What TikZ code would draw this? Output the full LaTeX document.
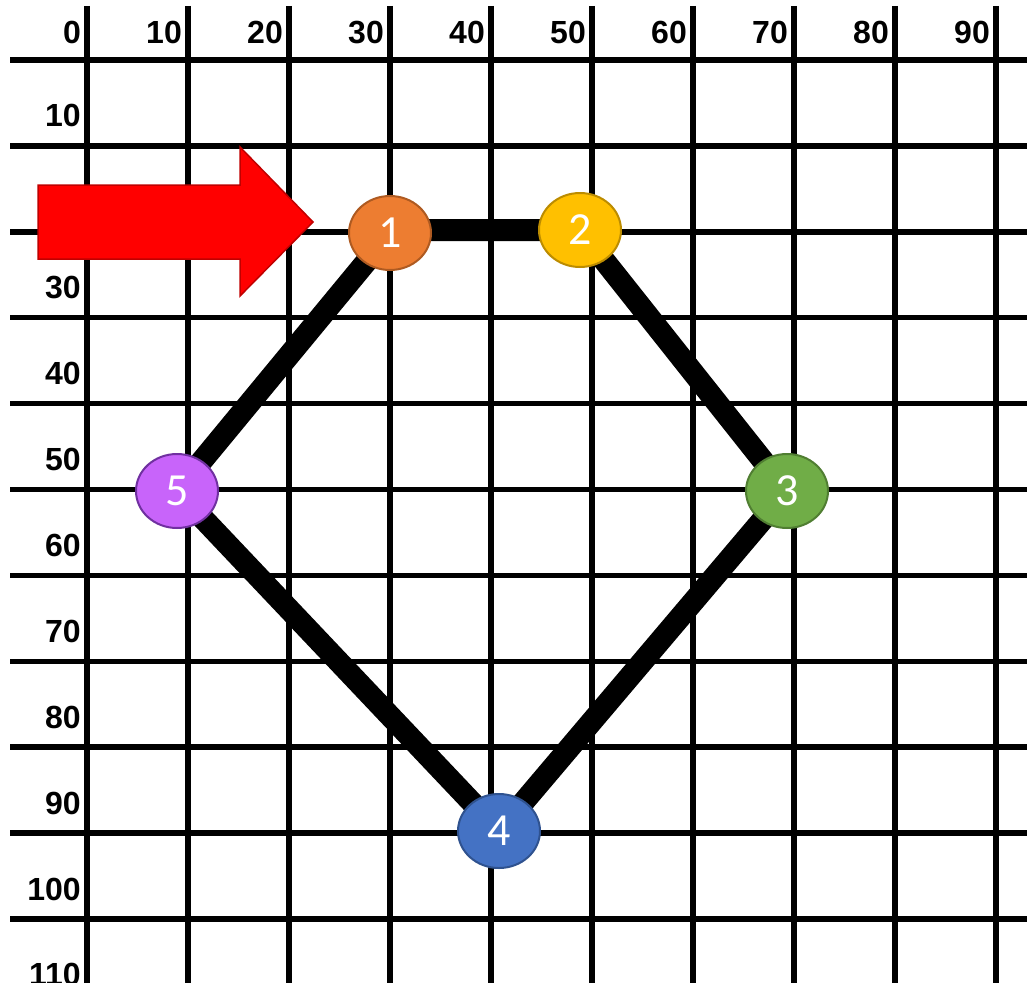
\documentclass[tikz,border=0pt]{standalone}
\usepackage{fontspec}
\setmainfont{Liberation Sans}
\newfontfamily\calib{Carlito}
\usetikzlibrary{shapes.geometric}
\definecolor{orfill}{HTML}{ED7D31}\definecolor{ordraw}{HTML}{AE5A21}
\definecolor{yefill}{HTML}{FFC000}\definecolor{yedraw}{HTML}{BC8C00}
\definecolor{grfill}{HTML}{70AD47}\definecolor{grdraw}{HTML}{507E32}
\definecolor{blfill}{HTML}{4472C4}\definecolor{bldraw}{HTML}{2F528F}
\definecolor{pufill}{RGB}{200,100,250}\definecolor{pudraw}{HTML}{7030A0}
\definecolor{arrfill}{HTML}{FF0000}\definecolor{arrdraw}{HTML}{C00000}
\pgfdeclarelayer{gridlayer}
\pgfdeclarelayer{edgelayer}
\pgfsetlayers{gridlayer,edgelayer,main}
\tikzset{
  gridline/.style={line width=5.5pt,black},
  axislabel/.style={inner sep=0pt,font=\fontsize{32}{32}\selectfont\bfseries},
  vertex/.style={ellipse,minimum width=82pt,minimum height=74pt,inner sep=0pt,line width=2pt,text=white,font=\calib\fontsize{46}{46}\selectfont},
  edgeline/.style={line width=22pt,black,shorten <=-6pt,shorten >=-6pt},
  bigarrow/.style={fill=arrfill,draw=arrdraw,line width=1.5pt,line join=miter}
}
\begin{document}
\begin{tikzpicture}[x=1pt,y=-1pt]
\useasboundingbox (0,0) rectangle (1027,982);
\clip (0,0) rectangle (1027,982);
\begin{pgfonlayer}{gridlayer}
\foreach \k in {0,...,9}{
  \pgfmathsetmacro{\xx}{87+101*\k}
  \draw[gridline] (\xx,6) -- (\xx,990);
  \pgfmathtruncatemacro{\lab}{10*\k}
  \node[axislabel,anchor=base east] (top\k) at (\xx-6,44) {\lab};
}
\foreach \j in {0,...,10}{
  \pgfmathsetmacro{\yy}{60+85.9*\j}
  \draw[gridline] (10,\yy) -- (1030,\yy);
}
\foreach \j in {1,...,11}{
  \pgfmathsetmacro{\yy}{60+85.9*\j-19}
  \pgfmathtruncatemacro{\lab}{10*\j}
  \node[axislabel,anchor=base east] (left\j) at (81,\yy) {\lab};
}
\end{pgfonlayer}

\node[vertex,fill=orfill,draw=ordraw] (n1) at (390,233) {1};
\node[vertex,fill=yefill,draw=yedraw] (n2) at (580,230) {2};
\node[vertex,fill=grfill,draw=grdraw] (n3) at (787,491) {3};
\node[vertex,fill=blfill,draw=bldraw] (n4) at (499,831) {4};
\node[vertex,fill=pufill,draw=pudraw] (n5) at (177,491) {5};

\begin{pgfonlayer}{edgelayer}
\draw[edgeline] (n1) -- (n2 -| n1.east) -- (n2);
\draw[edgeline] (n2) -- (n3);
\draw[edgeline] (n3) -- (n4);
\draw[edgeline] (n4) -- (n5);
\draw[edgeline] (n5) -- (n1);
\end{pgfonlayer}

\draw[bigarrow] (38,185) -- (240,185) -- (240,147) -- (313,222) -- (240,296) -- (240,259) -- (38,259) -- cycle;
\end{tikzpicture}
\end{document}
